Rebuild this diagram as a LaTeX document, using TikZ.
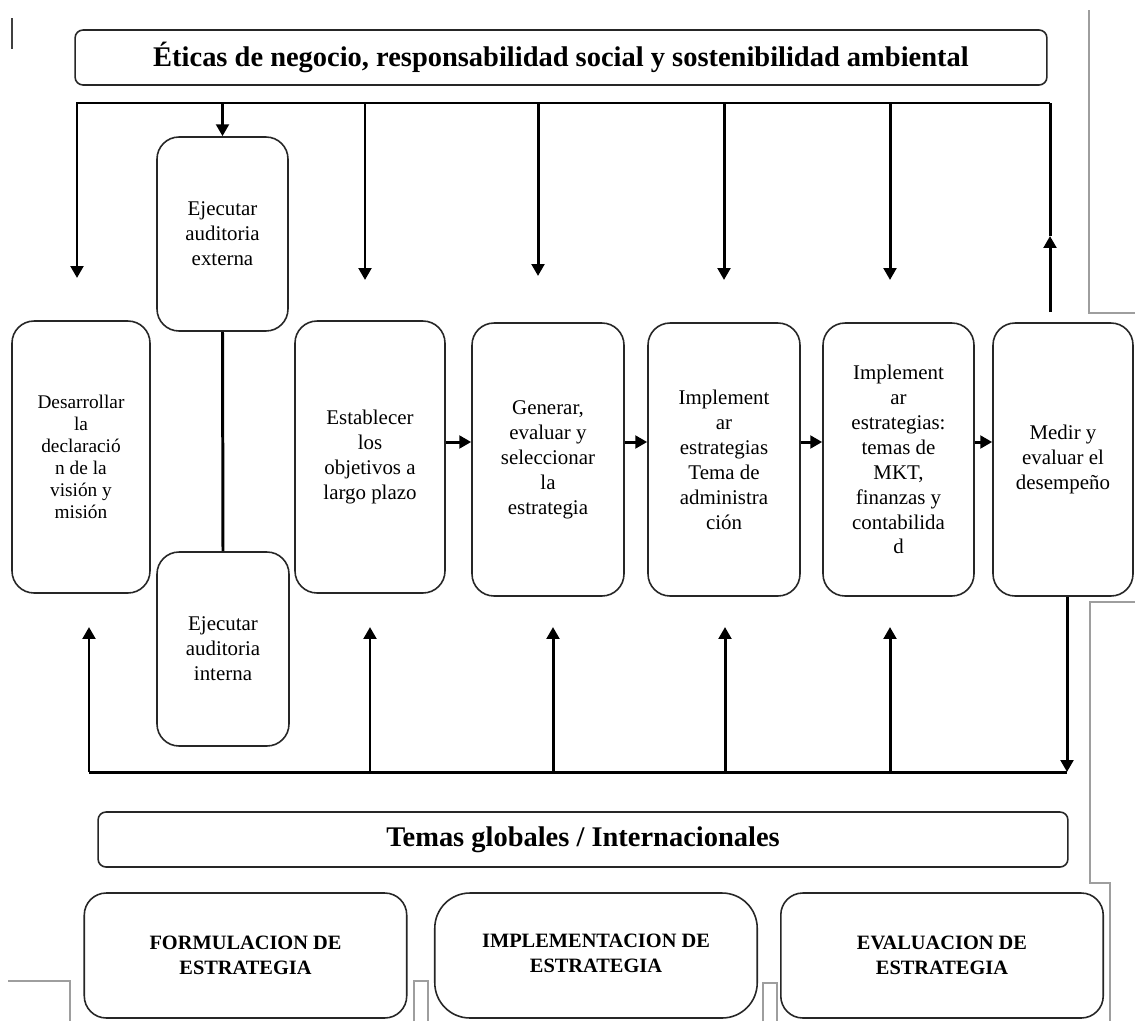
\documentclass[tikz,border=0pt]{standalone}
\usepackage{fontspec}
\setmainfont{Liberation Serif}
\usetikzlibrary{arrows.meta,calc}
\begin{document}
\begin{tikzpicture}[x=0.02cm,y=-0.02cm,
  box/.style={draw=black!85,line width=0.9pt,rounded corners=12.5pt,inner sep=0pt,align=center,
    font=\fontsize{11.9pt}{14.2pt}\selectfont},
  band/.style={draw=black!85,line width=0.9pt,rounded corners=4.5pt,inner sep=0pt,
    font=\fontsize{16.2pt}{18pt}\selectfont\bfseries},
  phase/.style={draw=black!85,line width=0.9pt,rounded corners=12.5pt,inner sep=0pt,align=center,
    minimum width=6.45cm,minimum height=2.5cm,font=\fontsize{11.6pt}{14.2pt}\selectfont\bfseries},
  conn/.style={line width=1.7pt,black},
  arr/.style={conn,-{Triangle[length=6.8pt,width=7.2pt]}},
  gr/.style={draw=black!38,line width=0.8pt}]
\useasboundingbox (0,0) rectangle (1135,1021);
\fill[white] (0,0) rectangle (1135,1021);

% stray margin mark
\draw[line width=0.9pt,black!75] (12,18) -- (12,49);

% page frame fragments
\draw[gr] (1089,10) -- (1089,313) -- (1135,313);
\draw[gr] (1135,602) -- (1090,602) -- (1090,883) -- (1110,883) -- (1110,1021);
\draw[gr] (8,981) -- (70,981) -- (70,1021);
\draw[gr] (414,1021) -- (414,981) -- (428,981) -- (428,1021);
\draw[gr] (763,1021) -- (763,983) -- (777,983) -- (777,1021);

% header band
\node[band,minimum width=19.44cm,minimum height=1.1cm] (eth) at (561,57.5)
  {Éticas de negocio, responsabilidad social y sostenibilidad ambiental};

% process boxes
\node[box,minimum width=2.62cm,minimum height=3.88cm] (ext) at (222.5,234)
  {Ejecutar\\auditoria\\externa};
\node[box,minimum width=2.64cm,minimum height=3.88cm] (int) at (223,649)
  {Ejecutar\\auditoria\\interna};
\node[box,minimum width=2.76cm,minimum height=5.44cm,font=\fontsize{11pt}{12.5pt}\selectfont] (des) at (81,457)
  {Desarrollar\\la\\declaració\\n de la\\visión y\\misión};
\node[box,minimum width=3.0cm,minimum height=5.44cm] (est) at (370,457)
  {Establecer\\los\\objetivos a\\largo plazo};
\node[box,minimum width=3.04cm,minimum height=5.46cm] (gen) at (548,459.5)
  {Generar,\\evaluar y\\seleccionar\\la\\estrategia};
\node[box,minimum width=3.04cm,minimum height=5.46cm] (adm) at (724,459.5)
  {Implement\\ar\\estrategias\\Tema de\\administra\\ción};
\node[box,minimum width=3.02cm,minimum height=5.46cm] (mkt) at (898.5,459.5)
  {Implement\\ar\\estrategias:\\temas de\\MKT,\\finanzas y\\contabilida\\d};
\node[box,minimum width=2.8cm,minimum height=5.46cm] (med) at (1063,459.5)
  {Medir y\\evaluar el\\desempeño};

% footer band and phases
\node[band,minimum width=19.4cm,minimum height=1.1cm] (glob) at (583,839.5)
  {Temas globales / Internacionales};
\node[phase] (form) at (245.5,955.5) {FORMULACION DE\\ESTRATEGIA};
\node[phase,rounded corners=20pt] (impl) at (596,955.5) {\raisebox{3pt}{IMPLEMENTACION DE}\\\raisebox{3pt}{ESTRATEGIA}};
\node[phase] (eval) at (942,955.5) {EVALUACION DE\\ESTRATEGIA};

% top feedback bus
\coordinate (tL) at (77,103);
\coordinate (tR) at (1050,103);
\coordinate (dDes) at (77,278);
\coordinate (dEst) at (365,280);
\coordinate (dGen) at (538,276);
\coordinate (dAdm) at (724,280);
\coordinate (dMkt) at (890,280);
\coordinate (uMed) at (1050,312);
\coordinate (uTip) at (1050,236);
\draw[arr] (tR) -- (tL) -- (dDes);
\draw[arr] (ext.north|-tL) -- (ext.north);
\draw[arr] (dEst|-tL) -- (dEst);
\draw[arr] (dGen|-tL) -- (dGen);
\draw[arr] (dAdm|-tL) -- (dAdm);
\draw[arr] (dMkt|-tL) -- (dMkt);
\draw[arr] (uMed) -- (uTip);
\draw[conn] (uTip) -- (tR);

% audits link
\draw[conn] (ext.south) -- (int.north);

% main flow
\coordinate (hrow) at (0,442);
\draw[arr] (est.east|-hrow) -- (gen.west|-hrow);
\draw[arr] (gen.east|-hrow) -- (adm.west|-hrow);
\draw[arr] (adm.east|-hrow) -- (mkt.west|-hrow);
\draw[arr] (mkt.east|-hrow) -- (med.west|-hrow);

% bottom feedback bus
\coordinate (bL) at (89,772);
\coordinate (bR) at (1067,772);
\coordinate (uDes) at (89,627);
\coordinate (uEst) at (370,627);
\coordinate (uGen) at (553,627);
\coordinate (uAdm) at (725,627);
\coordinate (uMkt) at (890,627);
\draw[arr] (med.south-|bR) -- (bR);
\draw[conn] (bR) -- (bL);
\draw[arr] (bL) -- (uDes);
\draw[arr] (uEst|-bL) -- (uEst);
\draw[arr] (uGen|-bL) -- (uGen);
\draw[arr] (uAdm|-bL) -- (uAdm);
\draw[arr] (uMkt|-bL) -- (uMkt);
\end{tikzpicture}
\end{document}
